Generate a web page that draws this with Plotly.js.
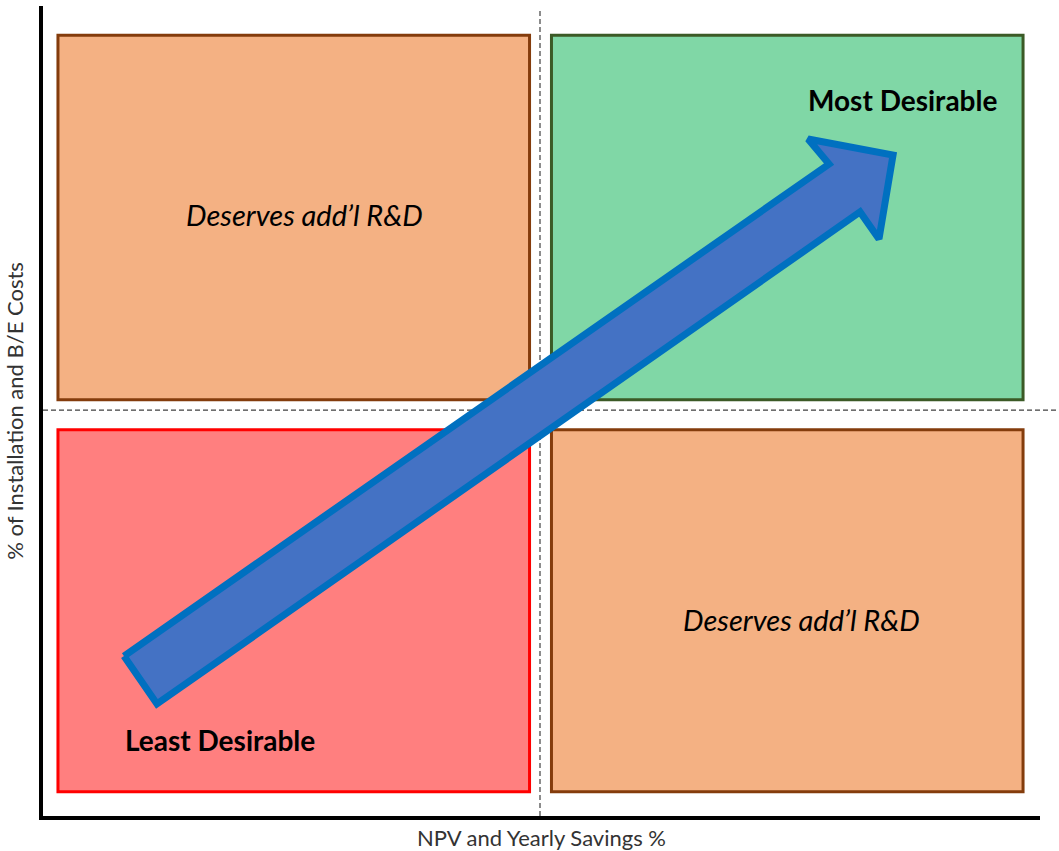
<!DOCTYPE html>
<html>
<head>
<meta charset="utf-8">
<script src="https://cdn.plot.ly/plotly-3.0.1.min.js"></script>
<style>html,body{margin:0;padding:0;background:#fff;}#chart{width:1059px;height:851px;}</style>
</head>
<body>
<div id="chart"></div>
<script>
// Quadrant diagram values (axis units 0-100)
const quadrantNames = ["Deserves add’l R&D", "Most Desirable", "Least Desirable", "Deserves add’l R&D"];
const quadrantXStart = [1.5, 51.0, 1.5, 51.0];
const quadrantXEnd = [48.8, 98.3, 48.8, 98.3];
const quadrantYStart = [51.4, 51.4, 3.0, 3.0];
const quadrantYEnd = [96.4, 96.4, 47.7, 47.7];
const labelX = [26.2, 86.2, 17.8, 76.1];
const labelY = [74.3, 88.4, 9.4, 24.2];
const dividerX = 49.85;
const dividerY = 50.1;
// Arrow outline (from "Least Desirable" toward "Most Desirable")
const arrowX = [8.12, 78.84, 76.73, 85.26, 83.85, 81.95, 11.43, 8.12];
const arrowY = [19.75, 80.49, 83.58, 81.60, 71.23, 74.57, 13.83, 19.75];
const xTitle = "NPV and Yearly Savings %";
const yTitle = "% of Installation and B/E Costs";

const fills = ["#F4B183", "#80D7A6", "#FF7F7F", "#F4B183"];
const borders = ["#843C0C", "#3B5A26", "#FF0000", "#843C0C"];
const labelStyles = [
  {italic: true, size: 29}, {bold: true, size: 28}, {bold: true, size: 28}, {italic: true, size: 29}
];

const shapes = [];
for (let i = 0; i < quadrantNames.length; i++) {
  shapes.push({
    type: "rect", xref: "x", yref: "y", layer: "below",
    x0: quadrantXStart[i], x1: quadrantXEnd[i],
    y0: quadrantYStart[i], y1: quadrantYEnd[i],
    fillcolor: fills[i], line: {color: borders[i], width: 3}
  });
}
shapes.push({
  type: "line", xref: "x", yref: "paper", layer: "below",
  x0: dividerX, x1: dividerX, y0: 0, y1: 0.995,
  line: {color: "#404040", width: 1.2, dash: "5px,3px"}
});
shapes.push({
  type: "line", xref: "paper", yref: "y", layer: "below",
  x0: 0, x1: 1.02, y0: dividerY, y1: dividerY,
  line: {color: "#404040", width: 1.2, dash: "5px,3px"}
});

const annotations = quadrantNames.map((t, i) => {
  let txt = t;
  if (labelStyles[i].bold) txt = "<b>" + t + "</b>";
  if (labelStyles[i].italic) txt = "<i>" + t + "</i>";
  return {
    x: labelX[i], y: labelY[i], xref: "x", yref: "y",
    text: txt, showarrow: false,
    font: {family: "Lato, 'Open Sans', sans-serif", size: labelStyles[i].size, color: "#000"}
  };
});

const arrowTrace = {
  type: "scatter", mode: "lines",
  x: arrowX, y: arrowY,
  fill: "toself", fillcolor: "#4472C4",
  line: {color: "#0070C0", width: 7},
  hoverinfo: "skip", showlegend: false
};

const layout = {
  width: 1059, height: 851,
  margin: {l: 43, r: 19, t: 6, b: 35},
  paper_bgcolor: "#fff", plot_bgcolor: "#fff",
  showlegend: false, hovermode: false,
  xaxis: {
    range: [0, 100], showgrid: false, zeroline: false,
    showticklabels: false, ticks: "", fixedrange: true,
    showline: true, linecolor: "#000", linewidth: 4,
    title: {text: xTitle, standoff: 14,
      font: {family: "Lato, 'Open Sans', sans-serif", size: 22, color: "#333"}}
  },
  yaxis: {
    range: [0, 100], showgrid: false, zeroline: false,
    showticklabels: false, ticks: "", fixedrange: true,
    showline: true, linecolor: "#000", linewidth: 4,
    title: {text: yTitle, standoff: 10,
      font: {family: "Lato, 'Open Sans', sans-serif", size: 22, color: "#333"}}
  },
  shapes: shapes,
  annotations: annotations
};

Plotly.newPlot("chart", [arrowTrace], layout, {displayModeBar: false, staticPlot: true});
</script>
</body>
</html>
